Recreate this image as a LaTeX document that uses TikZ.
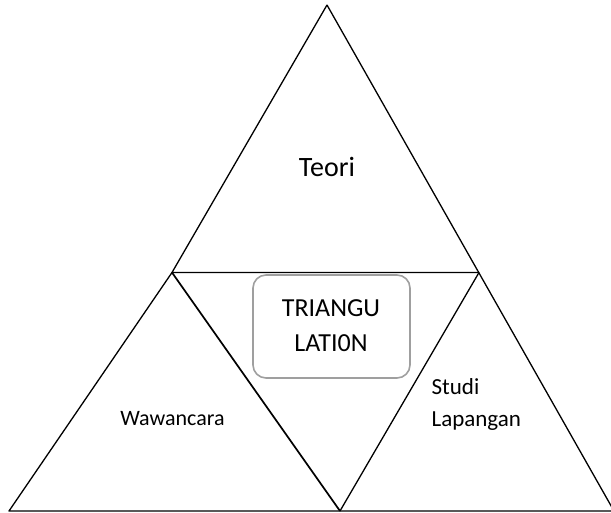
\documentclass[tikz,border=0pt]{standalone}
\usepackage{fontspec}
\setmainfont{Carlito}
\begin{document}
\begin{tikzpicture}[x=1pt,y=-1pt,line width=1.3pt,line join=round]
\useasboundingbox (0,0) rectangle (611,513);
\coordinate (top) at (327,5);
\coordinate (L) at (172,272.5);
\coordinate (R) at (479,272.5);
\coordinate (BL) at (9,511);
\coordinate (BM) at (340,511);
\coordinate (BR) at (614,511);
\draw (top)--(L)--(R);
\draw (top)--(BR);
\draw (L)--(BL)--(BR);
\draw[line width=1.7pt] (L)--(BM);
\draw (R)--(BM);
\draw[gray!75,line width=1.6pt,rounded corners=13pt] (253,275) rectangle (410,378);
\node (tri) at (331,326)[align=center,font=\fontsize{26}{35}\selectfont]{TRIANGU\\LATI0N};
\node (teori) at (327,176.5)[anchor=base,inner sep=0pt,font=\fontsize{28}{31}\selectfont]{Teori};
\node (wawan) at (172.5,425.5)[anchor=base,inner sep=0pt,font=\fontsize{22}{26}\selectfont]{Wawancara};
\node (studi) at (431,426)[anchor=base west,inner sep=0pt,align=left,font=\fontsize{23}{31.5}\selectfont]{Studi\\Lapangan};
\end{tikzpicture}
\end{document}
